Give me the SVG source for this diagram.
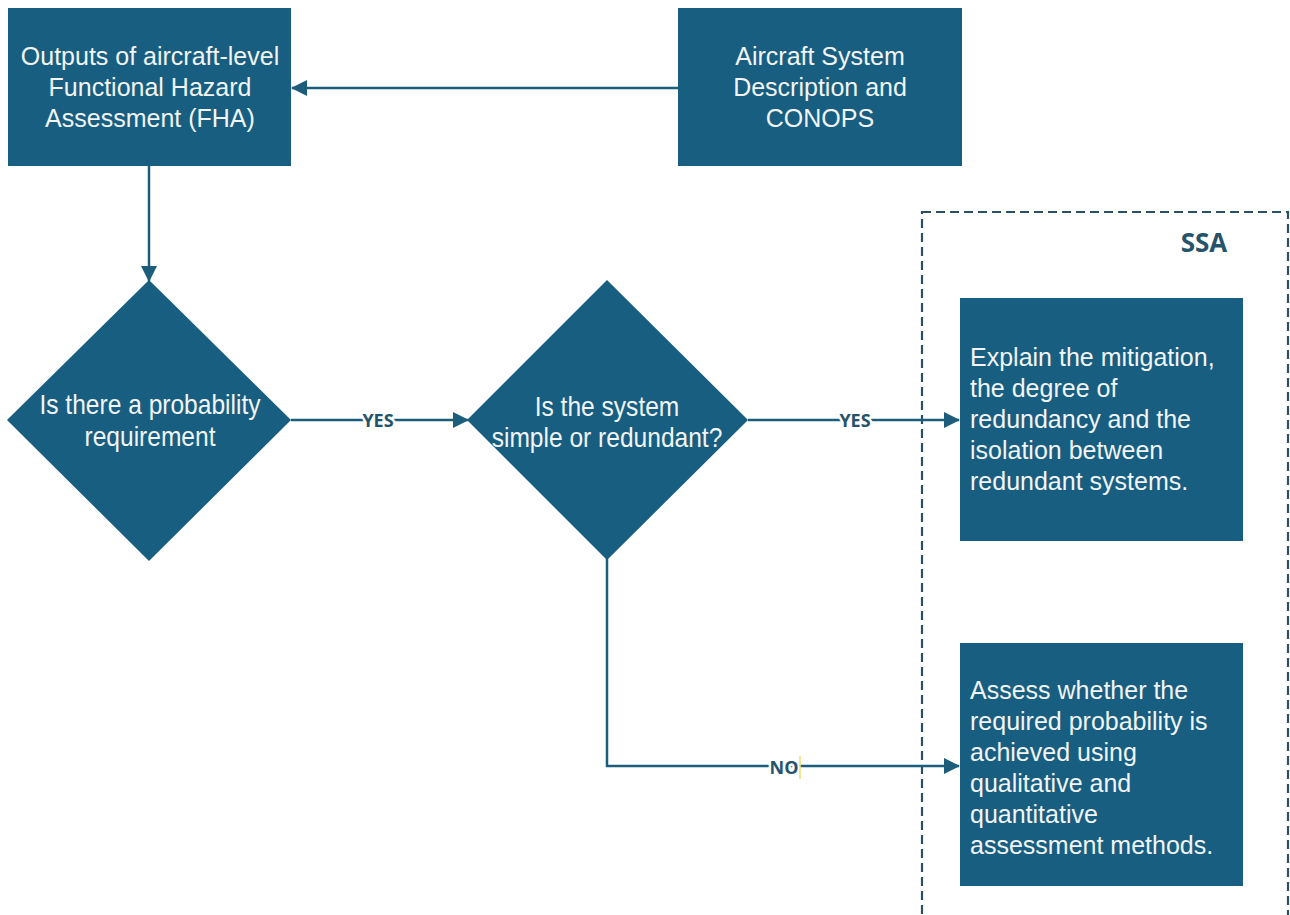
<svg xmlns="http://www.w3.org/2000/svg" width="1290" height="915" viewBox="0 0 1290 915">
<style>
.node{fill:#175e80;}
.t{font-family:"Liberation Sans",Arial,sans-serif;font-size:25px;fill:#f2f4f5;}
.td{font-family:"Liberation Sans",Arial,sans-serif;font-size:27px;fill:#f2f4f5;}
.conn{fill:none;stroke:#1d5d7c;stroke-width:2.5;}
.lbl{font-family:"Open Sans","Liberation Sans",sans-serif;font-size:18px;font-weight:bold;fill:#24536b;stroke:#ffffff;stroke-width:5px;paint-order:stroke;}
</style>
<defs>
<marker id="ah" markerWidth="16" markerHeight="16" refX="15" refY="8" orient="auto" markerUnits="userSpaceOnUse">
<path d="M0,0 L16,8 L0,16 Z" fill="#1d5d7c"/>
</marker>
</defs>
<rect width="1290" height="915" fill="#ffffff"/>
<g id="ssa-container">
<rect x="922" y="212" width="366" height="720" fill="none" stroke="#2b5063" stroke-width="2.2" stroke-dasharray="9,5"/>
<text x="1204" y="252" font-family="Open Sans, Liberation Sans, sans-serif" font-size="26" font-weight="bold" fill="#24536b" text-anchor="middle">SSA</text>
</g>
<g id="connectors">
<path class="conn" d="M678,88 L292,88" marker-end="url(#ah)"/>
<path class="conn" d="M149,166 L149,281" marker-end="url(#ah)"/>
<path class="conn" d="M291,420 L468,420" marker-end="url(#ah)"/>
<path class="conn" d="M748,420 L959,420" marker-end="url(#ah)"/>
<path class="conn" d="M607,558 L607,766 L959,766" marker-end="url(#ah)"/>
<text class="lbl" x="378" y="427" text-anchor="middle">YES</text>
<text class="lbl" x="855" y="427" text-anchor="middle">YES</text>
<text class="lbl" x="784" y="774" text-anchor="middle">NO</text>
<line x1="800" y1="756" x2="800" y2="779" stroke="#e8e070" stroke-width="1.5"/>
</g>
<g id="fha">
<rect class="node" x="8" y="8" width="283" height="158"/>
<text class="t" text-anchor="middle"><tspan x="150" y="65">Outputs of aircraft-level</tspan><tspan x="150" y="96">Functional Hazard</tspan><tspan x="150" y="127">Assessment (FHA)</tspan></text>
</g>
<g id="conops">
<rect class="node" x="678" y="8" width="284" height="158"/>
<text class="t" text-anchor="middle"><tspan x="820" y="65">Aircraft System</tspan><tspan x="820" y="96">Description and</tspan><tspan x="820" y="127">CONOPS</tspan></text>
</g>
<g id="decision1">
<polygon class="node" points="149,280 291,420 149,561 7,420"/>
<text class="td" text-anchor="middle" transform="translate(150,0) scale(0.91,1)"><tspan x="0" y="414">Is there a probability</tspan><tspan x="0" y="446">requirement</tspan></text>
</g>
<g id="decision2">
<polygon class="node" points="607,280 748,420 607,560 467,420"/>
<text class="td" text-anchor="middle" transform="translate(607,0) scale(0.91,1)"><tspan x="0" y="416">Is the system</tspan><tspan x="0" y="447">simple or redundant?</tspan></text>
</g>
<g id="mitigation">
<rect class="node" x="960" y="298" width="283" height="243"/>
<text class="t"><tspan x="970" y="366">Explain the mitigation,</tspan><tspan x="970" y="397">the degree of</tspan><tspan x="970" y="428">redundancy and the</tspan><tspan x="970" y="459">isolation between</tspan><tspan x="970" y="490">redundant systems.</tspan></text>
</g>
<g id="assess">
<rect class="node" x="960" y="643" width="283" height="243"/>
<text class="t"><tspan x="970" y="699">Assess whether the</tspan><tspan x="970" y="730">required probability is</tspan><tspan x="970" y="761">achieved using</tspan><tspan x="970" y="792">qualitative and</tspan><tspan x="970" y="823">quantitative</tspan><tspan x="970" y="854">assessment methods.</tspan></text>
</g>
</svg>
